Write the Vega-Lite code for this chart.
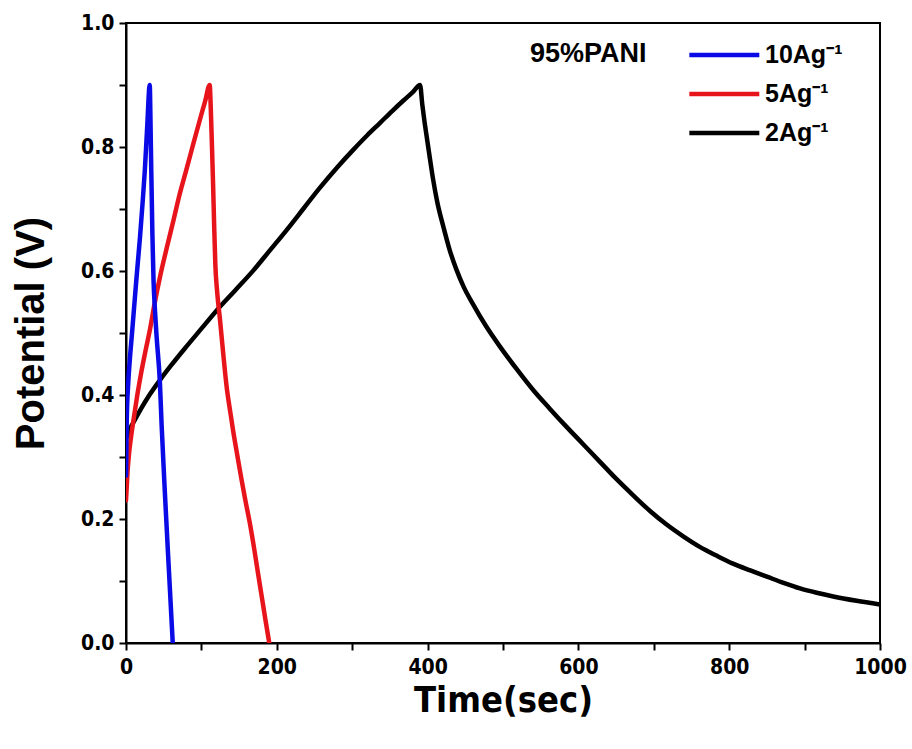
{
  "$schema": "https://vega.github.io/schema/vega-lite/v6.json",
  "width": 754,
  "height": 620,
  "autosize": {"type": "none"},
  "padding": {"left": 126, "top": 23, "right": 32, "bottom": 106},
  "background": "white",
  "config": {
    "view": {"stroke": "black", "strokeWidth": 2},
    "axis": {
      "domainColor": "black", "domainWidth": 2, "tickColor": "black", "tickWidth": 2, "tickSize": 7,
      "grid": false, "labelColor": "black", "labelFont": "DejaVu Sans Condensed, Liberation Sans, sans-serif", "labelFontWeight": "bold", "labelFontSize": 21,
      "titleColor": "black", "titleFontWeight": "bold"
    }
  },
  "data": {"values": [
    {"s": "2Ag⁻¹", "t": 0, "v": 0.33},
    {"s": "2Ag⁻¹", "t": 5, "v": 0.345},
    {"s": "2Ag⁻¹", "t": 10, "v": 0.356},
    {"s": "2Ag⁻¹", "t": 20, "v": 0.378},
    {"s": "2Ag⁻¹", "t": 30, "v": 0.398},
    {"s": "2Ag⁻¹", "t": 45, "v": 0.424},
    {"s": "2Ag⁻¹", "t": 60, "v": 0.448},
    {"s": "2Ag⁻¹", "t": 80, "v": 0.478},
    {"s": "2Ag⁻¹", "t": 100, "v": 0.507},
    {"s": "2Ag⁻¹", "t": 120, "v": 0.536},
    {"s": "2Ag⁻¹", "t": 145, "v": 0.569},
    {"s": "2Ag⁻¹", "t": 169, "v": 0.601},
    {"s": "2Ag⁻¹", "t": 190, "v": 0.632},
    {"s": "2Ag⁻¹", "t": 213, "v": 0.666},
    {"s": "2Ag⁻¹", "t": 235, "v": 0.700},
    {"s": "2Ag⁻¹", "t": 257, "v": 0.734},
    {"s": "2Ag⁻¹", "t": 280, "v": 0.767},
    {"s": "2Ag⁻¹", "t": 301, "v": 0.795},
    {"s": "2Ag⁻¹", "t": 320, "v": 0.819},
    {"s": "2Ag⁻¹", "t": 337, "v": 0.839},
    {"s": "2Ag⁻¹", "t": 353, "v": 0.858},
    {"s": "2Ag⁻¹", "t": 368, "v": 0.875},
    {"s": "2Ag⁻¹", "t": 380, "v": 0.888},
    {"s": "2Ag⁻¹", "t": 390, "v": 0.90},
    {"s": "2Ag⁻¹", "t": 393, "v": 0.868},
    {"s": "2Ag⁻¹", "t": 396, "v": 0.84},
    {"s": "2Ag⁻¹", "t": 399, "v": 0.815},
    {"s": "2Ag⁻¹", "t": 403, "v": 0.782},
    {"s": "2Ag⁻¹", "t": 407, "v": 0.750},
    {"s": "2Ag⁻¹", "t": 413, "v": 0.710},
    {"s": "2Ag⁻¹", "t": 421, "v": 0.671},
    {"s": "2Ag⁻¹", "t": 429, "v": 0.635},
    {"s": "2Ag⁻¹", "t": 438, "v": 0.603},
    {"s": "2Ag⁻¹", "t": 448, "v": 0.574},
    {"s": "2Ag⁻¹", "t": 460, "v": 0.547},
    {"s": "2Ag⁻¹", "t": 477, "v": 0.512},
    {"s": "2Ag⁻¹", "t": 496, "v": 0.478},
    {"s": "2Ag⁻¹", "t": 518, "v": 0.442},
    {"s": "2Ag⁻¹", "t": 540, "v": 0.408},
    {"s": "2Ag⁻¹", "t": 562, "v": 0.378},
    {"s": "2Ag⁻¹", "t": 584, "v": 0.349},
    {"s": "2Ag⁻¹", "t": 606, "v": 0.321},
    {"s": "2Ag⁻¹", "t": 628, "v": 0.293},
    {"s": "2Ag⁻¹", "t": 650, "v": 0.265},
    {"s": "2Ag⁻¹", "t": 672, "v": 0.239},
    {"s": "2Ag⁻¹", "t": 695, "v": 0.213},
    {"s": "2Ag⁻¹", "t": 717, "v": 0.191},
    {"s": "2Ag⁻¹", "t": 739, "v": 0.172},
    {"s": "2Ag⁻¹", "t": 761, "v": 0.155},
    {"s": "2Ag⁻¹", "t": 783, "v": 0.141},
    {"s": "2Ag⁻¹", "t": 805, "v": 0.128},
    {"s": "2Ag⁻¹", "t": 828, "v": 0.117},
    {"s": "2Ag⁻¹", "t": 850, "v": 0.107},
    {"s": "2Ag⁻¹", "t": 872, "v": 0.097},
    {"s": "2Ag⁻¹", "t": 894, "v": 0.088},
    {"s": "2Ag⁻¹", "t": 916, "v": 0.081},
    {"s": "2Ag⁻¹", "t": 938, "v": 0.075},
    {"s": "2Ag⁻¹", "t": 969, "v": 0.068},
    {"s": "2Ag⁻¹", "t": 1000, "v": 0.062},
    {"s": "5Ag⁻¹", "t": 0, "v": 0.23},
    {"s": "5Ag⁻¹", "t": 2, "v": 0.275},
    {"s": "5Ag⁻¹", "t": 4, "v": 0.305},
    {"s": "5Ag⁻¹", "t": 7, "v": 0.335},
    {"s": "5Ag⁻¹", "t": 10, "v": 0.36},
    {"s": "5Ag⁻¹", "t": 15, "v": 0.40},
    {"s": "5Ag⁻¹", "t": 20, "v": 0.435},
    {"s": "5Ag⁻¹", "t": 26, "v": 0.472},
    {"s": "5Ag⁻¹", "t": 32, "v": 0.507},
    {"s": "5Ag⁻¹", "t": 38, "v": 0.548},
    {"s": "5Ag⁻¹", "t": 45, "v": 0.59},
    {"s": "5Ag⁻¹", "t": 54, "v": 0.637},
    {"s": "5Ag⁻¹", "t": 63, "v": 0.682},
    {"s": "5Ag⁻¹", "t": 71, "v": 0.723},
    {"s": "5Ag⁻¹", "t": 80, "v": 0.763},
    {"s": "5Ag⁻¹", "t": 89, "v": 0.804},
    {"s": "5Ag⁻¹", "t": 98, "v": 0.844},
    {"s": "5Ag⁻¹", "t": 105, "v": 0.874},
    {"s": "5Ag⁻¹", "t": 111, "v": 0.90},
    {"s": "5Ag⁻¹", "t": 112.5, "v": 0.86},
    {"s": "5Ag⁻¹", "t": 113.8, "v": 0.81},
    {"s": "5Ag⁻¹", "t": 115.5, "v": 0.74},
    {"s": "5Ag⁻¹", "t": 117, "v": 0.67},
    {"s": "5Ag⁻¹", "t": 118.5, "v": 0.61},
    {"s": "5Ag⁻¹", "t": 121, "v": 0.565},
    {"s": "5Ag⁻¹", "t": 124.7, "v": 0.521},
    {"s": "5Ag⁻¹", "t": 129, "v": 0.466},
    {"s": "5Ag⁻¹", "t": 133.5, "v": 0.413},
    {"s": "5Ag⁻¹", "t": 138, "v": 0.375},
    {"s": "5Ag⁻¹", "t": 142, "v": 0.343},
    {"s": "5Ag⁻¹", "t": 148, "v": 0.30},
    {"s": "5Ag⁻¹", "t": 153, "v": 0.265},
    {"s": "5Ag⁻¹", "t": 158, "v": 0.232},
    {"s": "5Ag⁻¹", "t": 164, "v": 0.195},
    {"s": "5Ag⁻¹", "t": 170, "v": 0.152},
    {"s": "5Ag⁻¹", "t": 175, "v": 0.113},
    {"s": "5Ag⁻¹", "t": 180, "v": 0.075},
    {"s": "5Ag⁻¹", "t": 185, "v": 0.037},
    {"s": "5Ag⁻¹", "t": 190, "v": 0.0},
    {"s": "10Ag⁻¹", "t": 0, "v": 0.27},
    {"s": "10Ag⁻¹", "t": 1, "v": 0.36},
    {"s": "10Ag⁻¹", "t": 3, "v": 0.42},
    {"s": "10Ag⁻¹", "t": 5, "v": 0.456},
    {"s": "10Ag⁻¹", "t": 8, "v": 0.50},
    {"s": "10Ag⁻¹", "t": 11, "v": 0.545},
    {"s": "10Ag⁻¹", "t": 14, "v": 0.59},
    {"s": "10Ag⁻¹", "t": 18.6, "v": 0.655},
    {"s": "10Ag⁻¹", "t": 22, "v": 0.71},
    {"s": "10Ag⁻¹", "t": 25, "v": 0.763},
    {"s": "10Ag⁻¹", "t": 28, "v": 0.83},
    {"s": "10Ag⁻¹", "t": 31.5, "v": 0.90},
    {"s": "10Ag⁻¹", "t": 32.5, "v": 0.84},
    {"s": "10Ag⁻¹", "t": 33.5, "v": 0.763},
    {"s": "10Ag⁻¹", "t": 35, "v": 0.66},
    {"s": "10Ag⁻¹", "t": 36.5, "v": 0.585},
    {"s": "10Ag⁻¹", "t": 38.5, "v": 0.535},
    {"s": "10Ag⁻¹", "t": 40.6, "v": 0.494},
    {"s": "10Ag⁻¹", "t": 45, "v": 0.419},
    {"s": "10Ag⁻¹", "t": 47.3, "v": 0.35},
    {"s": "10Ag⁻¹", "t": 52, "v": 0.232},
    {"s": "10Ag⁻¹", "t": 57, "v": 0.115},
    {"s": "10Ag⁻¹", "t": 62, "v": 0.0}
  ]},
  "mark": {"type": "line", "strokeWidth": 4.5, "clip": true, "interpolate": "monotone", "strokeJoin": "round", "strokeCap": "round"},
  "encoding": {
    "x": {
      "field": "t", "type": "quantitative",
      "scale": {"domain": [0, 1000], "nice": false},
      "axis": {
        "title": "Time(sec)", "titleFont": "DejaVu Sans Condensed, Liberation Sans, sans-serif", "titleFontSize": 36, "titlePadding": 6,
        "values": [0, 100, 200, 300, 400, 500, 600, 700, 800, 900, 1000],
        "format": "d",
        "labelExpr": "datum.value % 200 === 0 ? datum.label : ''",
        "labelPadding": 6, "labelFlush": false, "labelOverlap": false
      }
    },
    "y": {
      "field": "v", "type": "quantitative",
      "scale": {"domain": [0, 1.0], "nice": false, "zero": false},
      "axis": {
        "title": "Potential (V)", "titleFont": "Liberation Sans", "titleFontSize": 40, "titlePadding": 29,
        "values": [0, 0.1, 0.2, 0.3, 0.4, 0.5, 0.6, 0.7, 0.8, 0.9, 1.0],
        "format": ".1f",
        "labelExpr": "round(datum.value * 10) % 2 === 0 ? datum.label : ''",
        "labelPadding": 5, "labelFlush": false, "labelOverlap": false
      }
    },
    "color": {
      "field": "s", "type": "nominal",
      "scale": {"domain": ["10Ag⁻¹", "5Ag⁻¹", "2Ag⁻¹"], "range": ["#0a0ae6", "#e8141c", "#000000"]},
      "legend": {
        "orient": "none", "legendX": 404, "legendY": 18,
        "title": "95%PANI", "titleOrient": "left", "titleAnchor": "start", "titleFont": "Liberation Sans", "titleFontSize": 27,
        "titleFontWeight": "bold", "titleColor": "black", "titlePadding": 40, "titleBaseline": "top",
        "symbolType": "M-1,0H5", "symbolSize": 544, "symbolStrokeWidth": 4.5, "rowPadding": 12,
        "labelFont": "Liberation Sans", "labelFontSize": 25, "labelFontWeight": "bold", "labelColor": "black", "labelOffset": 50
      }
    },
    "order": {"field": "t", "type": "quantitative"}
  }
}
